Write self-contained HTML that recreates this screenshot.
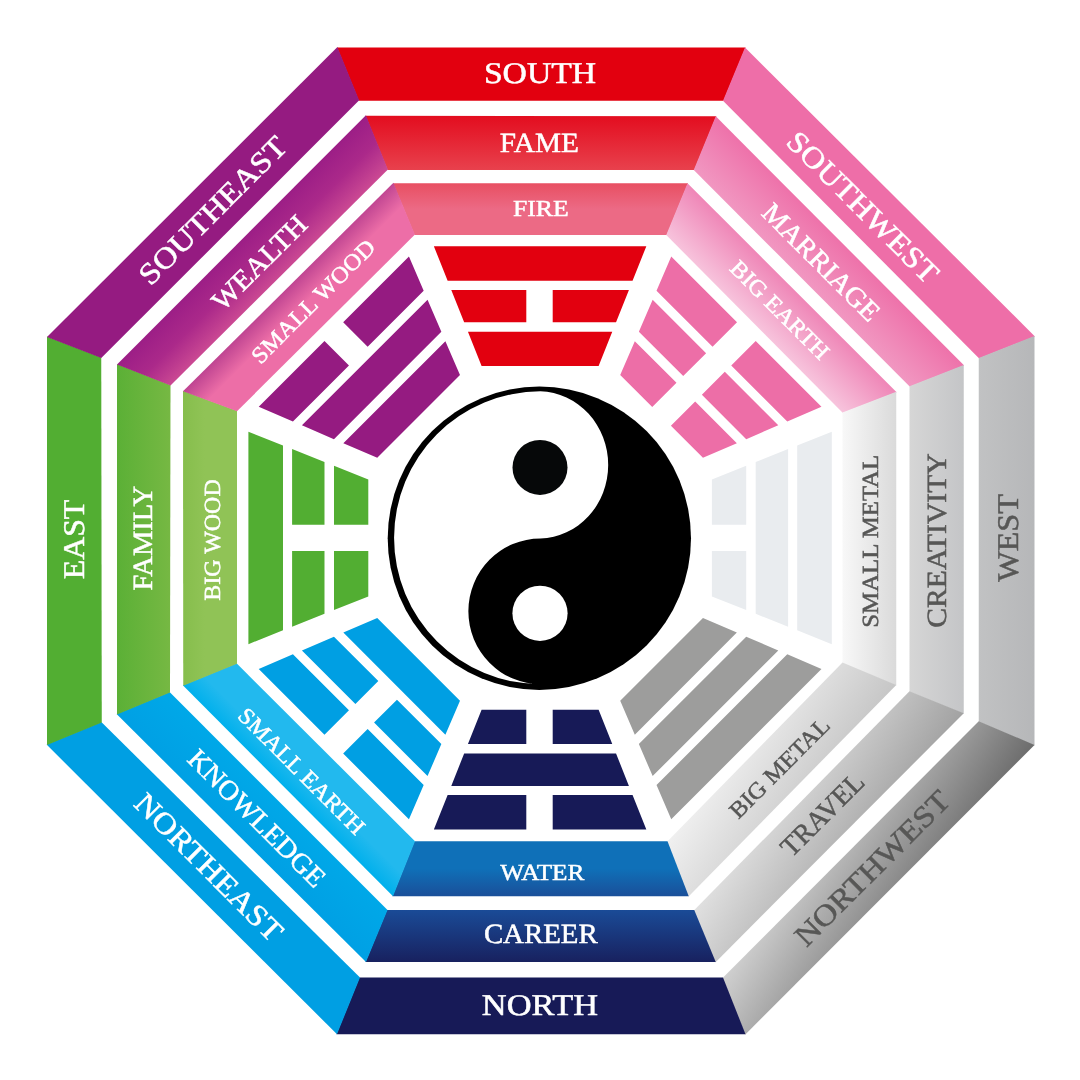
<!DOCTYPE html>
<html lang="en"><head><meta charset="utf-8"><title>Bagua</title>
<style>
html,body{margin:0;padding:0;background:#fff;}
body{width:1080px;height:1080px;overflow:hidden;}
svg{display:block;will-change:transform;}
text{font-family:"Liberation Serif",serif;text-rendering:geometricPrecision;}
</style></head><body>
<svg width="1080" height="1080" viewBox="0 0 1080 1080">
<defs>
<linearGradient id="gS1" gradientUnits="userSpaceOnUse" x1="540.62" y1="116" x2="540.62" y2="170"><stop offset="0" stop-color="#e30d1f"/><stop offset="1" stop-color="#e8414d"/></linearGradient>
<linearGradient id="gS2" gradientUnits="userSpaceOnUse" x1="540.25" y1="183.25" x2="540.25" y2="235"><stop offset="0" stop-color="#e84f62"/><stop offset="0.5" stop-color="#ec6a85"/><stop offset="1" stop-color="#ec6a85"/></linearGradient>
<linearGradient id="gSW1" gradientUnits="userSpaceOnUse" x1="839.75" y1="240.62" x2="801.94" y2="278.44"><stop offset="0" stop-color="#ee72aa"/><stop offset="1" stop-color="#f197c1"/></linearGradient>
<linearGradient id="gSW2" gradientUnits="userSpaceOnUse" x1="791.88" y1="287.5" x2="755" y2="324.38"><stop offset="0" stop-color="#ef86b7"/><stop offset="1" stop-color="#f7c3dc"/></linearGradient>
<linearGradient id="gW0" gradientUnits="userSpaceOnUse" x1="1034.5" y1="540.5" x2="978.75" y2="540.5"><stop offset="0" stop-color="#b6b7b9"/><stop offset="1" stop-color="#c1c2c3"/></linearGradient>
<linearGradient id="gW1" gradientUnits="userSpaceOnUse" x1="963.75" y1="539.12" x2="909.5" y2="539.12"><stop offset="0" stop-color="#c4c5c7"/><stop offset="1" stop-color="#d6d6d6"/></linearGradient>
<linearGradient id="gW2" gradientUnits="userSpaceOnUse" x1="896.25" y1="538.38" x2="842.5" y2="538.38"><stop offset="0" stop-color="#dadada"/><stop offset="1" stop-color="#f8f8f8"/></linearGradient>
<linearGradient id="gNW0" gradientUnits="userSpaceOnUse" x1="959.26" y1="599.41" x2="1078.8" y2="674.11"><stop offset="0" stop-color="#d0d0d0"/><stop offset="1" stop-color="#6c6c6c"/></linearGradient>
<linearGradient id="gNW1" gradientUnits="userSpaceOnUse" x1="908.25" y1="567.54" x2="1013.65" y2="633.4"><stop offset="0" stop-color="#e0e0e0"/><stop offset="1" stop-color="#a2a2a2"/></linearGradient>
<linearGradient id="gNW2" gradientUnits="userSpaceOnUse" x1="858.11" y1="536.21" x2="952.41" y2="595.13"><stop offset="0" stop-color="#f0f0f0"/><stop offset="1" stop-color="#c6c6c6"/></linearGradient>
<linearGradient id="gN1" gradientUnits="userSpaceOnUse" x1="540.88" y1="962" x2="540.88" y2="910"><stop offset="0" stop-color="#18215f"/><stop offset="1" stop-color="#1a4b97"/></linearGradient>
<linearGradient id="gN2" gradientUnits="userSpaceOnUse" x1="540.88" y1="896.25" x2="540.88" y2="841.25"><stop offset="0" stop-color="#1a4f99"/><stop offset="0.5" stop-color="#0f70b8"/><stop offset="1" stop-color="#0f70b8"/></linearGradient>
<linearGradient id="gNE1" gradientUnits="userSpaceOnUse" x1="241.5" y1="838.25" x2="278.62" y2="801.12"><stop offset="0" stop-color="#00a0e4"/><stop offset="1" stop-color="#00a8e8"/></linearGradient>
<linearGradient id="gNE2" gradientUnits="userSpaceOnUse" x1="288.12" y1="791" x2="326.31" y2="752.81"><stop offset="0" stop-color="#00b0ec"/><stop offset="0.4" stop-color="#22b9ee"/><stop offset="1" stop-color="#22b9ee"/></linearGradient>
<linearGradient id="gE1" gradientUnits="userSpaceOnUse" x1="117" y1="539.5" x2="170.25" y2="539.5"><stop offset="0" stop-color="#5bb036"/><stop offset="1" stop-color="#76b843"/></linearGradient>
<linearGradient id="gE2" gradientUnits="userSpaceOnUse" x1="183.12" y1="538.5" x2="237" y2="538.5"><stop offset="0" stop-color="#86be4c"/><stop offset="0.4" stop-color="#90c356"/><stop offset="1" stop-color="#90c356"/></linearGradient>
<linearGradient id="gSE1" gradientUnits="userSpaceOnUse" x1="241.25" y1="240.12" x2="278.94" y2="277.81"><stop offset="0" stop-color="#9c1e86"/><stop offset="0.5" stop-color="#ab298a"/><stop offset="1" stop-color="#cb4993"/></linearGradient>
<linearGradient id="gSE2" gradientUnits="userSpaceOnUse" x1="288" y1="287.25" x2="324.81" y2="324.06"><stop offset="0" stop-color="#c04592"/><stop offset="0.45" stop-color="#ed6ea7"/><stop offset="1" stop-color="#ed6ea7"/></linearGradient>
</defs>
<rect width="1080" height="1080" fill="#fff"/>
<polygon points="337,47.5 745.6,47.5 723.6,100.75 358.75,100.75" fill="#e2000f"/>
<polygon points="365.5,115.75 716.35,116.25 694.35,170 387.5,170" fill="url(#gS1)"/>
<polygon points="393,183.25 688.1,183.25 666.85,235 414.5,235" fill="url(#gS2)"/>
<polygon points="745,47.5 1034.92,336.42 979.17,358.42 723,100.75" fill="#ee6ea8"/>
<polygon points="715.75,116.25 964.17,365.42 909.92,386.67 693.75,170" fill="url(#gSW1)"/>
<polygon points="687.5,183.25 896.67,392.17 842.92,412.92 666.25,235" fill="url(#gSW2)"/>
<polygon points="1034.5,336 1034.5,745.6 978.75,721.85 978.75,358" fill="url(#gW0)"/>
<polygon points="963.75,365 963.75,713.85 909.5,691.85 909.5,386.25" fill="url(#gW1)"/>
<polygon points="896.25,391.75 896.25,685.6 842.5,663.1 842.5,412.5" fill="url(#gW2)"/>
<polygon points="1034.5,745 745.08,1034.67 722.58,977.92 978.75,721.25" fill="url(#gNW0)"/>
<polygon points="963.75,713.25 715.33,962.42 693.83,910.42 909.5,691.25" fill="url(#gNW1)"/>
<polygon points="896.25,685 688.33,896.67 667.08,841.67 842.5,662.5" fill="url(#gNW2)"/>
<polygon points="745.5,1034.25 336.4,1034.25 359.4,977.5 723,977.5" fill="#171a57"/>
<polygon points="715.75,962 365.4,962 386.9,910 694.25,910" fill="url(#gN1)"/>
<polygon points="688.75,896.25 392.4,896.25 414.4,841.25 667.5,841.25" fill="url(#gN2)"/>
<polygon points="337,1034.25 46.58,744.58 101.33,722.08 360,977.5" fill="#009fe3"/>
<polygon points="366,962 116.58,714.08 169.58,692.08 387.5,910" fill="url(#gNE1)"/>
<polygon points="393,896.25 182.83,685.33 236.58,663.33 415,841.25" fill="url(#gNE2)"/>
<polygon points="47,745 47,336.4 101.25,357.4 101.75,722.5" fill="#52ae32"/>
<polygon points="117,714.5 117,363.9 170.5,384.9 170,692.5" fill="url(#gE1)"/>
<polygon points="183.25,685.75 183,390.65 237,410.65 237,663.75" fill="url(#gE2)"/>
<polygon points="47,337 337.42,47.08 359.17,100.33 101.25,358" fill="#951b81"/>
<polygon points="117,364.5 365.92,115.33 387.92,169.58 170.5,385.5" fill="url(#gSE1)"/>
<polygon points="183,391.25 393.42,182.83 414.92,234.58 237,411.25" fill="url(#gSE2)"/>
<path transform="translate(540.1 537.9) rotate(0)" fill="#e2000f" d="M-106.23 -291.7L106.23 -291.7L92.46 -257.1L-92.46 -257.1ZM-88.83 -248L-13.8 -248L-13.8 -215.6L-75.94 -215.6ZM12.6 -248L88.83 -248L75.94 -215.6L12.6 -215.6ZM-72.16 -206.1L72.16 -206.1L58.51 -171.8L-58.51 -171.8Z"/>
<path transform="translate(540.1 537.9) rotate(45)" fill="#ed6ea7" d="M-106.23 -291.7L-13.2 -291.7L-13.2 -257.1L-92.46 -257.1ZM13.2 -291.7L106.23 -291.7L92.46 -257.1L13.2 -257.1ZM-88.83 -248L-13.2 -248L-13.2 -215.6L-75.94 -215.6ZM13.2 -248L88.83 -248L75.94 -215.6L13.2 -215.6ZM-72.16 -206.1L-13.2 -206.1L-13.2 -171.8L-58.51 -171.8ZM13.2 -206.1L72.16 -206.1L58.51 -171.8L13.2 -171.8Z"/>
<path transform="translate(540.1 537.9) rotate(90)" fill="#e9ecef" d="M-106.23 -291.7L106.23 -291.7L92.46 -257.1L-92.46 -257.1ZM-88.83 -248L88.83 -248L75.94 -215.6L-75.94 -215.6ZM-72.16 -206.1L-13.2 -206.1L-13.2 -171.8L-58.51 -171.8ZM13.2 -206.1L72.16 -206.1L58.51 -171.8L13.2 -171.8Z"/>
<path transform="translate(540.1 537.9) rotate(135)" fill="#9d9d9c" d="M-106.23 -291.7L106.23 -291.7L92.46 -257.1L-92.46 -257.1ZM-88.83 -248L88.83 -248L75.94 -215.6L-75.94 -215.6ZM-72.16 -206.1L72.16 -206.1L58.51 -171.8L-58.51 -171.8Z"/>
<path transform="translate(540.1 537.9) rotate(180)" fill="#171a57" d="M-106.23 -291.7L-12.6 -291.7L-12.6 -257.1L-92.46 -257.1ZM13.8 -291.7L106.23 -291.7L92.46 -257.1L13.8 -257.1ZM-88.83 -248L88.83 -248L75.94 -215.6L-75.94 -215.6ZM-72.16 -206.1L-12.6 -206.1L-12.6 -171.8L-58.51 -171.8ZM13.8 -206.1L72.16 -206.1L58.51 -171.8L13.8 -171.8Z"/>
<path transform="translate(540.1 537.9) rotate(225)" fill="#009fe3" d="M-106.23 -291.7L-13.2 -291.7L-13.2 -257.1L-92.46 -257.1ZM13.2 -291.7L106.23 -291.7L92.46 -257.1L13.2 -257.1ZM-88.83 -248L-13.2 -248L-13.2 -215.6L-75.94 -215.6ZM13.2 -248L88.83 -248L75.94 -215.6L13.2 -215.6ZM-72.16 -206.1L72.16 -206.1L58.51 -171.8L-58.51 -171.8Z"/>
<path transform="translate(540.1 537.9) rotate(270)" fill="#52ae32" d="M-106.23 -291.7L106.23 -291.7L92.46 -257.1L-92.46 -257.1ZM-88.83 -248L-13.2 -248L-13.2 -215.6L-75.94 -215.6ZM13.2 -248L88.83 -248L75.94 -215.6L13.2 -215.6ZM-72.16 -206.1L-13.2 -206.1L-13.2 -171.8L-58.51 -171.8ZM13.2 -206.1L72.16 -206.1L58.51 -171.8L13.2 -171.8Z"/>
<path transform="translate(540.1 537.9) rotate(315)" fill="#951b81" d="M-106.23 -291.7L-13.2 -291.7L-13.2 -257.1L-92.46 -257.1ZM13.2 -291.7L106.23 -291.7L92.46 -257.1L13.2 -257.1ZM-88.83 -248L88.83 -248L75.94 -215.6L-75.94 -215.6ZM-72.16 -206.1L72.16 -206.1L58.51 -171.8L-58.51 -171.8Z"/>
<circle cx="539.35" cy="538.25" r="151.65" fill="#000"/>
<path fill="#fff" d="M540.4 391.35A146.4 146.4 0 0 0 540.4 684.15A72 72.8 0 0 1 540.4 538.5A69.6 73.6 0 0 0 540.4 391.35Z"/>
<circle cx="540" cy="467.4" r="27.5" fill="#060809"/>
<circle cx="540" cy="613.3" r="27.6" fill="#fff"/>
<text transform="translate(540 73) rotate(0)" font-size="30" fill="#fff" stroke="#fff" stroke-width="0.5" textLength="112.2" lengthAdjust="spacingAndGlyphs" text-anchor="middle" dy="9.83">SOUTH</text>
<text transform="translate(539.25 142.75) rotate(0)" font-size="27.8" fill="#fff" stroke="#fff" stroke-width="0.5" textLength="79.06" lengthAdjust="spacingAndGlyphs" text-anchor="middle" dy="9.1">FAME</text>
<text transform="translate(540.75 208.5) rotate(0)" font-size="23.1" fill="#fff" stroke="#fff" stroke-width="0.5" textLength="55.62" lengthAdjust="spacingAndGlyphs" text-anchor="middle" dy="7.57">FIRE</text>
<text transform="translate(540 1005.5) rotate(0)" font-size="30" fill="#fff" stroke="#fff" stroke-width="0.5" textLength="116.29" lengthAdjust="spacingAndGlyphs" text-anchor="middle" dy="9.83">NORTH</text>
<text transform="translate(540.75 933.5) rotate(0)" font-size="27.8" fill="#fff" stroke="#fff" stroke-width="0.5" textLength="113.78" lengthAdjust="spacingAndGlyphs" text-anchor="middle" dy="9.1">CAREER</text>
<text transform="translate(542.25 872.25) rotate(0)" font-size="23.1" fill="#fff" stroke="#fff" stroke-width="0.5" textLength="84.19" lengthAdjust="spacingAndGlyphs" text-anchor="middle" dy="7.57">WATER</text>
<text transform="translate(1008 538) rotate(-90)" font-size="30" fill="#575756" stroke="#575756" stroke-width="0.5" textLength="87.77" lengthAdjust="spacingAndGlyphs" text-anchor="middle" dy="9.83">WEST</text>
<text transform="translate(936.75 540.5) rotate(-90)" font-size="27.8" fill="#575756" stroke="#575756" stroke-width="0.5" textLength="174.45" lengthAdjust="spacingAndGlyphs" text-anchor="middle" dy="9.1">CREATIVITY</text>
<text transform="translate(870.25 541.25) rotate(-90)" font-size="23.1" fill="#575756" stroke="#575756" stroke-width="0.5" textLength="172.9" lengthAdjust="spacingAndGlyphs" text-anchor="middle" dy="7.57">SMALL METAL</text>
<text transform="translate(74.5 539.5) rotate(-90)" font-size="30" fill="#fff" stroke="#fff" stroke-width="0.5" textLength="79.58" lengthAdjust="spacingAndGlyphs" text-anchor="middle" dy="9.83">EAST</text>
<text transform="translate(142.75 538.25) rotate(-90)" font-size="27.8" fill="#fff" stroke="#fff" stroke-width="0.5" textLength="104.58" lengthAdjust="spacingAndGlyphs" text-anchor="middle" dy="9.1">FAMILY</text>
<text transform="translate(212.75 540) rotate(-90)" font-size="23.1" fill="#fff" stroke="#fff" stroke-width="0.5" textLength="121.4" lengthAdjust="spacingAndGlyphs" text-anchor="middle" dy="7.57">BIG WOOD</text>
<text transform="translate(862.75 207.25) rotate(45)" font-size="30" fill="#fff" stroke="#fff" stroke-width="0.5" textLength="201.03" lengthAdjust="spacingAndGlyphs" text-anchor="middle" dy="9.83">SOUTHWEST</text>
<text transform="translate(821 262.25) rotate(45)" font-size="27.8" fill="#fff" stroke="#fff" stroke-width="0.5" textLength="153.89" lengthAdjust="spacingAndGlyphs" text-anchor="middle" dy="9.1">MARRIAGE</text>
<text transform="translate(779.75 310) rotate(45)" font-size="23.1" fill="#fff" stroke="#fff" stroke-width="0.5" textLength="129.61" lengthAdjust="spacingAndGlyphs" text-anchor="middle" dy="7.57">BIG EARTH</text>
<text transform="translate(872.25 868.25) rotate(-45)" font-size="30" fill="#575756" stroke="#575756" stroke-width="0.5" textLength="205.98" lengthAdjust="spacingAndGlyphs" text-anchor="middle" dy="9.83">NORTHWEST</text>
<text transform="translate(822.37 814.5) rotate(-45)" font-size="27.8" fill="#575756" stroke="#575756" stroke-width="0.5" textLength="105.63" lengthAdjust="spacingAndGlyphs" text-anchor="middle" dy="9.1">TRAVEL</text>
<text transform="translate(779.5 768) rotate(-45)" font-size="23.1" fill="#575756" stroke="#575756" stroke-width="0.5" textLength="131.38" lengthAdjust="spacingAndGlyphs" text-anchor="middle" dy="7.57">BIG METAL</text>
<text transform="translate(208.75 867.25) rotate(45)" font-size="30" fill="#fff" stroke="#fff" stroke-width="0.5" textLength="196.08" lengthAdjust="spacingAndGlyphs" text-anchor="middle" dy="9.83">NORTHEAST</text>
<text transform="translate(256.75 818.25) rotate(45)" font-size="27.8" fill="#fff" stroke="#fff" stroke-width="0.5" textLength="181.82" lengthAdjust="spacingAndGlyphs" text-anchor="middle" dy="9.1">KNOWLEDGE</text>
<text transform="translate(301.5 771.25) rotate(45)" font-size="23.1" fill="#fff" stroke="#fff" stroke-width="0.5" textLength="168.5" lengthAdjust="spacingAndGlyphs" text-anchor="middle" dy="7.57">SMALL EARTH</text>
<text transform="translate(212.75 210.5) rotate(-45)" font-size="30" fill="#fff" stroke="#fff" stroke-width="0.5" textLength="195.73" lengthAdjust="spacingAndGlyphs" text-anchor="middle" dy="9.83">SOUTHEAST</text>
<text transform="translate(259.5 262.75) rotate(-45)" font-size="27.8" fill="#fff" stroke="#fff" stroke-width="0.5" textLength="122.07" lengthAdjust="spacingAndGlyphs" text-anchor="middle" dy="9.1">WEALTH</text>
<text transform="translate(313.25 301.5) rotate(-45)" font-size="23.1" fill="#fff" stroke="#fff" stroke-width="0.5" textLength="164.26" lengthAdjust="spacingAndGlyphs" text-anchor="middle" dy="7.57">SMALL WOOD</text>
</svg>
</body></html>
